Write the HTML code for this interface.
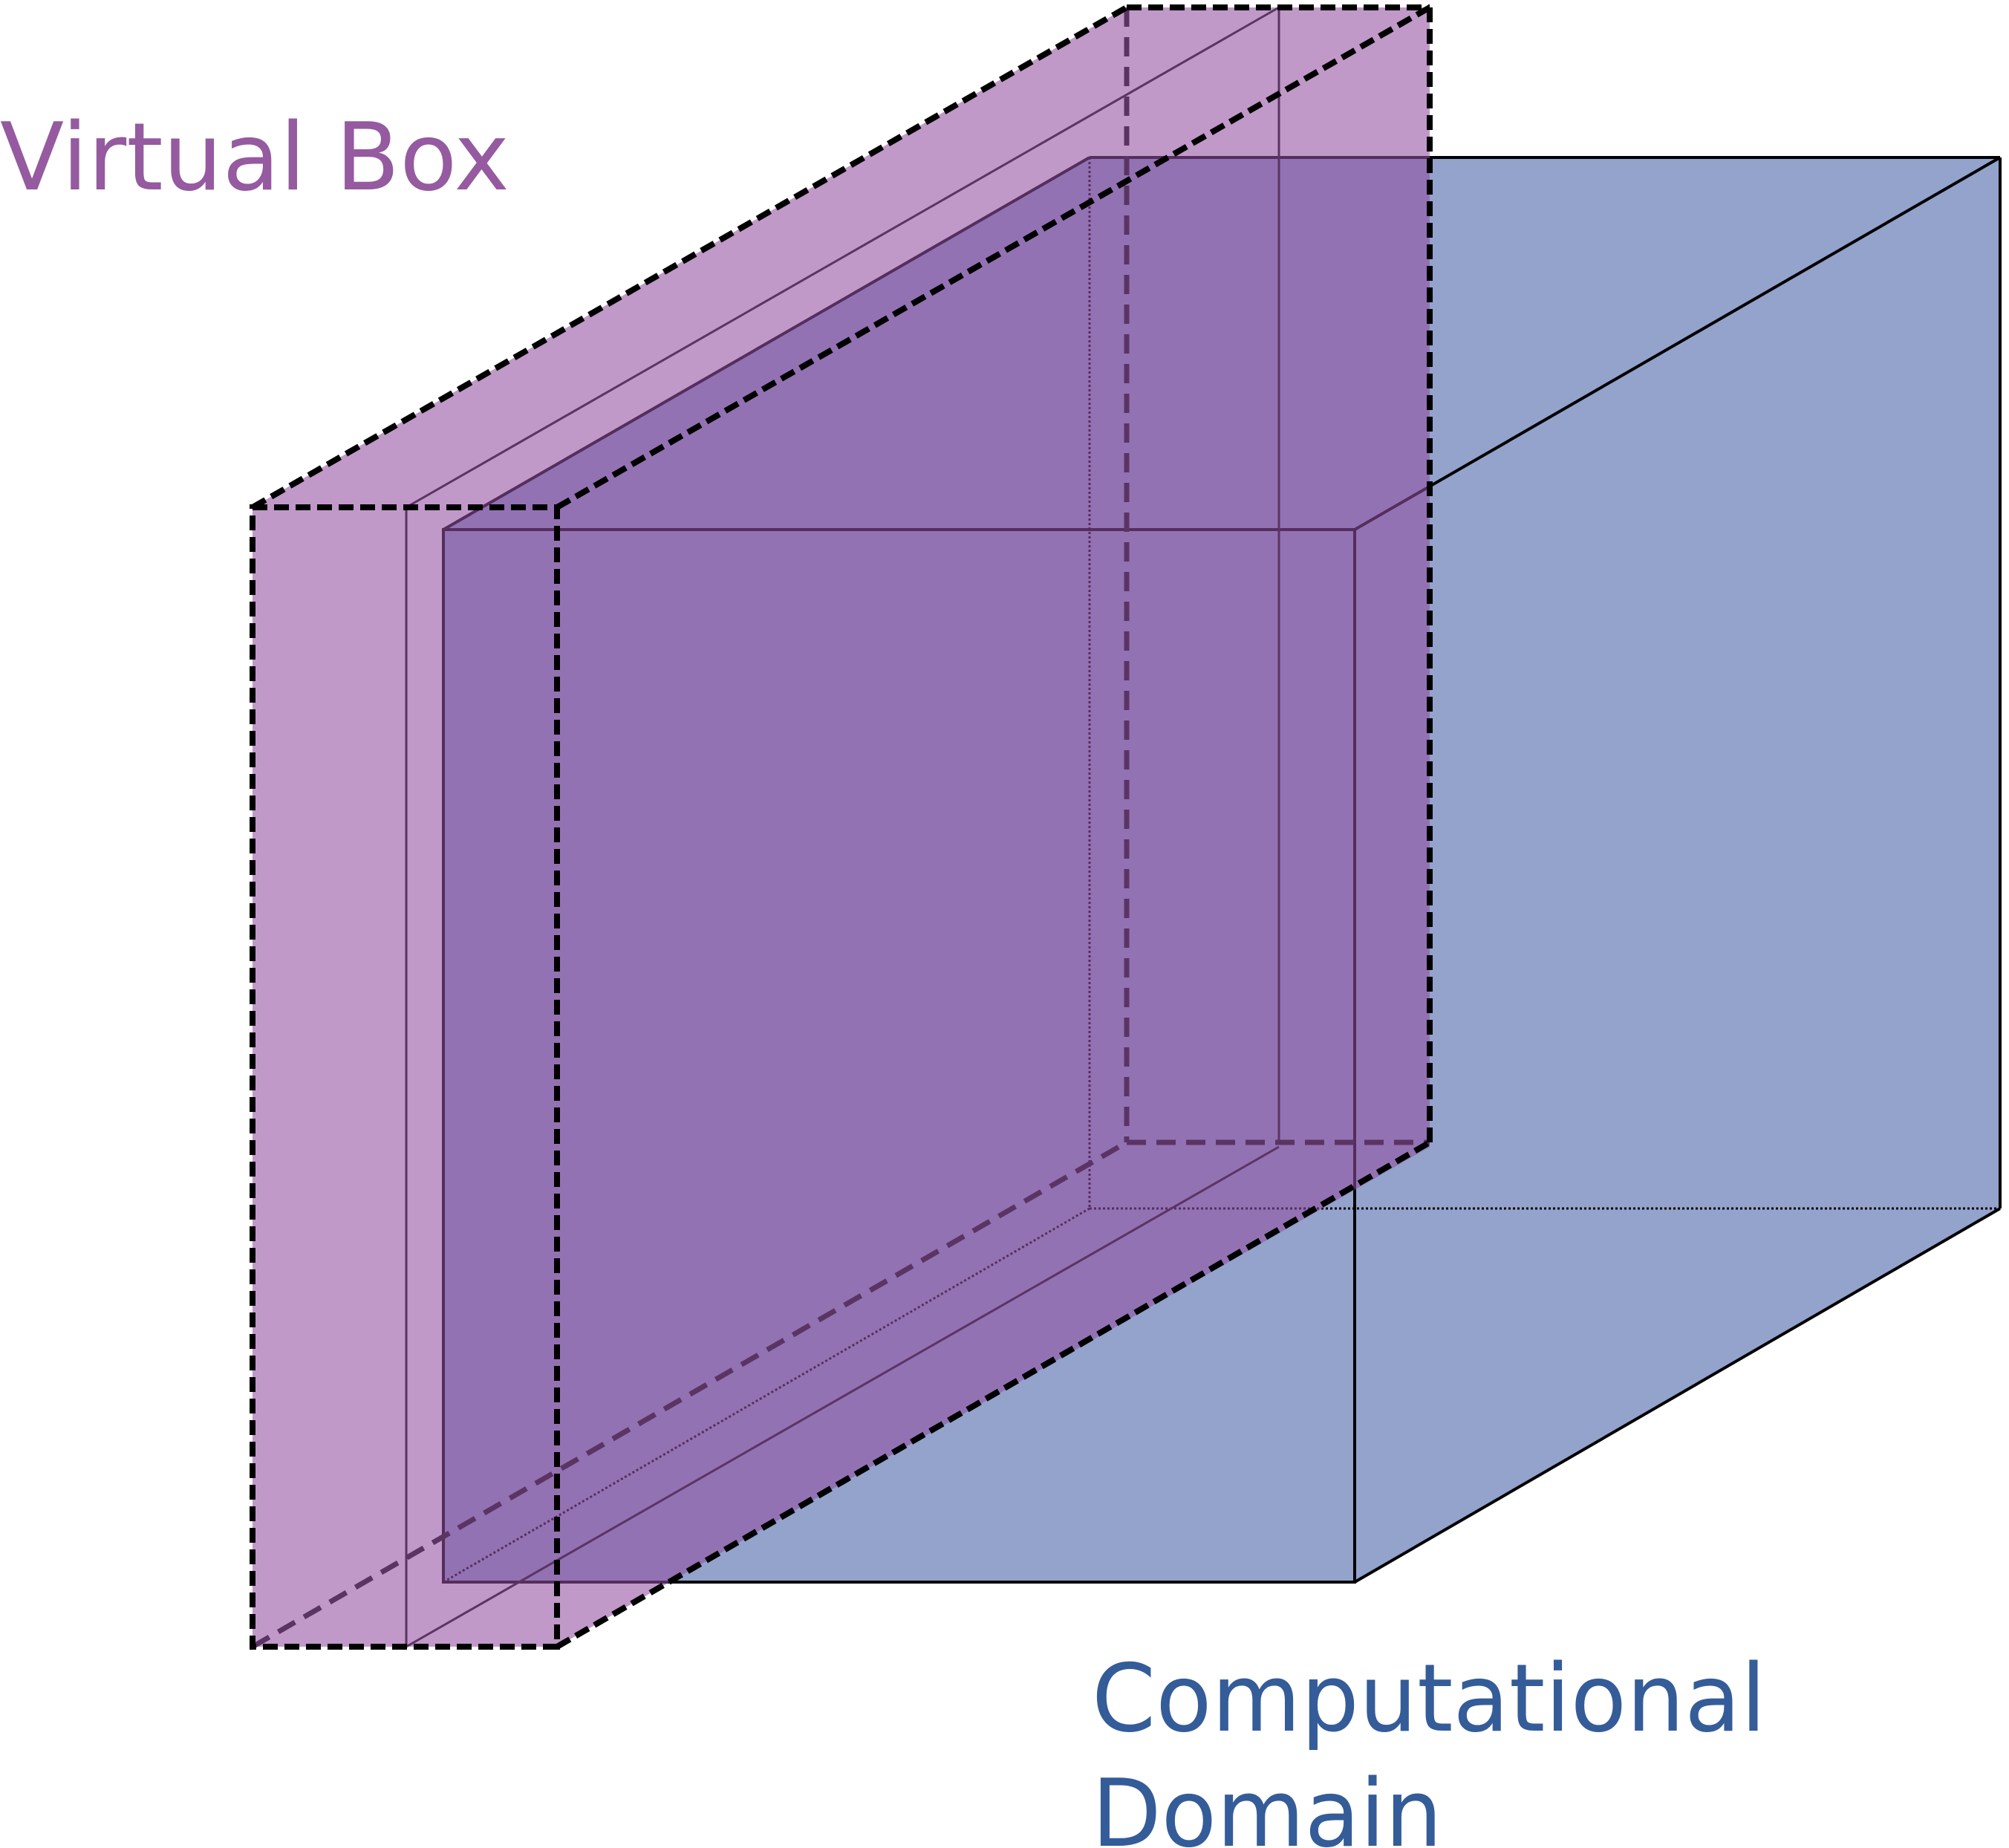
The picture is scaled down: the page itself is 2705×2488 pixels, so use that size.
<!DOCTYPE html>
<html><head><meta charset="utf-8"><style>
html,body{margin:0;padding:0;background:#fff;}
svg{display:block;}
text{font-family:"DejaVu Sans","Liberation Sans",sans-serif;}
</style></head><body>
<svg width="2705" height="2488" viewBox="0 0 2705 2488" xmlns="http://www.w3.org/2000/svg">
<g>
<polygon points="597,2130 597,713 1467,212 2693,212 2693,1627 1824,2130" fill="#93a3cc"/>
<g stroke="#000" stroke-width="3" fill="none" stroke-dasharray="3,3">
<line x1="1467" y1="212" x2="1467" y2="1627"/>
<line x1="1467" y1="1627" x2="2693" y2="1627"/>
<line x1="597" y1="2130" x2="1467" y2="1627"/>
</g>
<g stroke="#000" stroke-width="4" fill="none">
<rect x="597" y="713" width="1227" height="1417"/>
<line x1="597" y1="713" x2="1467" y2="212"/>
<line x1="1467" y1="212" x2="2693" y2="212"/>
<line x1="1824" y1="713" x2="2693" y2="212"/>
<line x1="2693" y1="212" x2="2693" y2="1627"/>
<line x1="1824" y1="2130" x2="2693" y2="1627"/>
</g>
</g>
<g>
<polygon points="340,683 340,2217 750,2217 1925,1544 1925,10 1517,10" fill="rgb(146,80,161)" fill-opacity="0.58"/>
<g stroke="#5a3463" stroke-width="3" fill="none">
<line x1="547" y1="683" x2="547" y2="2217"/>
<line x1="1722" y1="10" x2="1722" y2="1538"/>
<line x1="547" y1="683" x2="1722" y2="10"/>
<line x1="547" y1="2217" x2="1722" y2="1544"/>
</g>
<g stroke="#5a3463" stroke-width="7" fill="none" stroke-dasharray="26,14">
<line x1="1517" y1="10" x2="1517" y2="1538"/>
<line x1="1517" y1="1538" x2="1925" y2="1538"/>
<line x1="340" y1="2217" x2="1517" y2="1538"/>
</g>
<g stroke="#000" stroke-width="8" fill="none" stroke-dasharray="20,9">
<rect x="340" y="683" width="410" height="1534"/>
<line x1="340" y1="683" x2="1517" y2="10"/>
<line x1="1517" y1="10" x2="1925" y2="10"/>
<line x1="750" y1="683" x2="1925" y2="10"/>
<line x1="1925" y1="10" x2="1925" y2="1538"/>
<line x1="750" y1="2217" x2="1925" y2="1538"/>
</g>
</g>
<text x="0" y="255" font-size="126" fill="#955aa0" textLength="686" lengthAdjust="spacingAndGlyphs">Virtual Box</text>
<text x="1470" y="2330" font-size="126" fill="#345c98" textLength="908" lengthAdjust="spacingAndGlyphs">Computational</text>
<text x="1470" y="2485" font-size="126" fill="#345c98" textLength="472" lengthAdjust="spacingAndGlyphs">Domain</text>
</svg>
</body></html>
